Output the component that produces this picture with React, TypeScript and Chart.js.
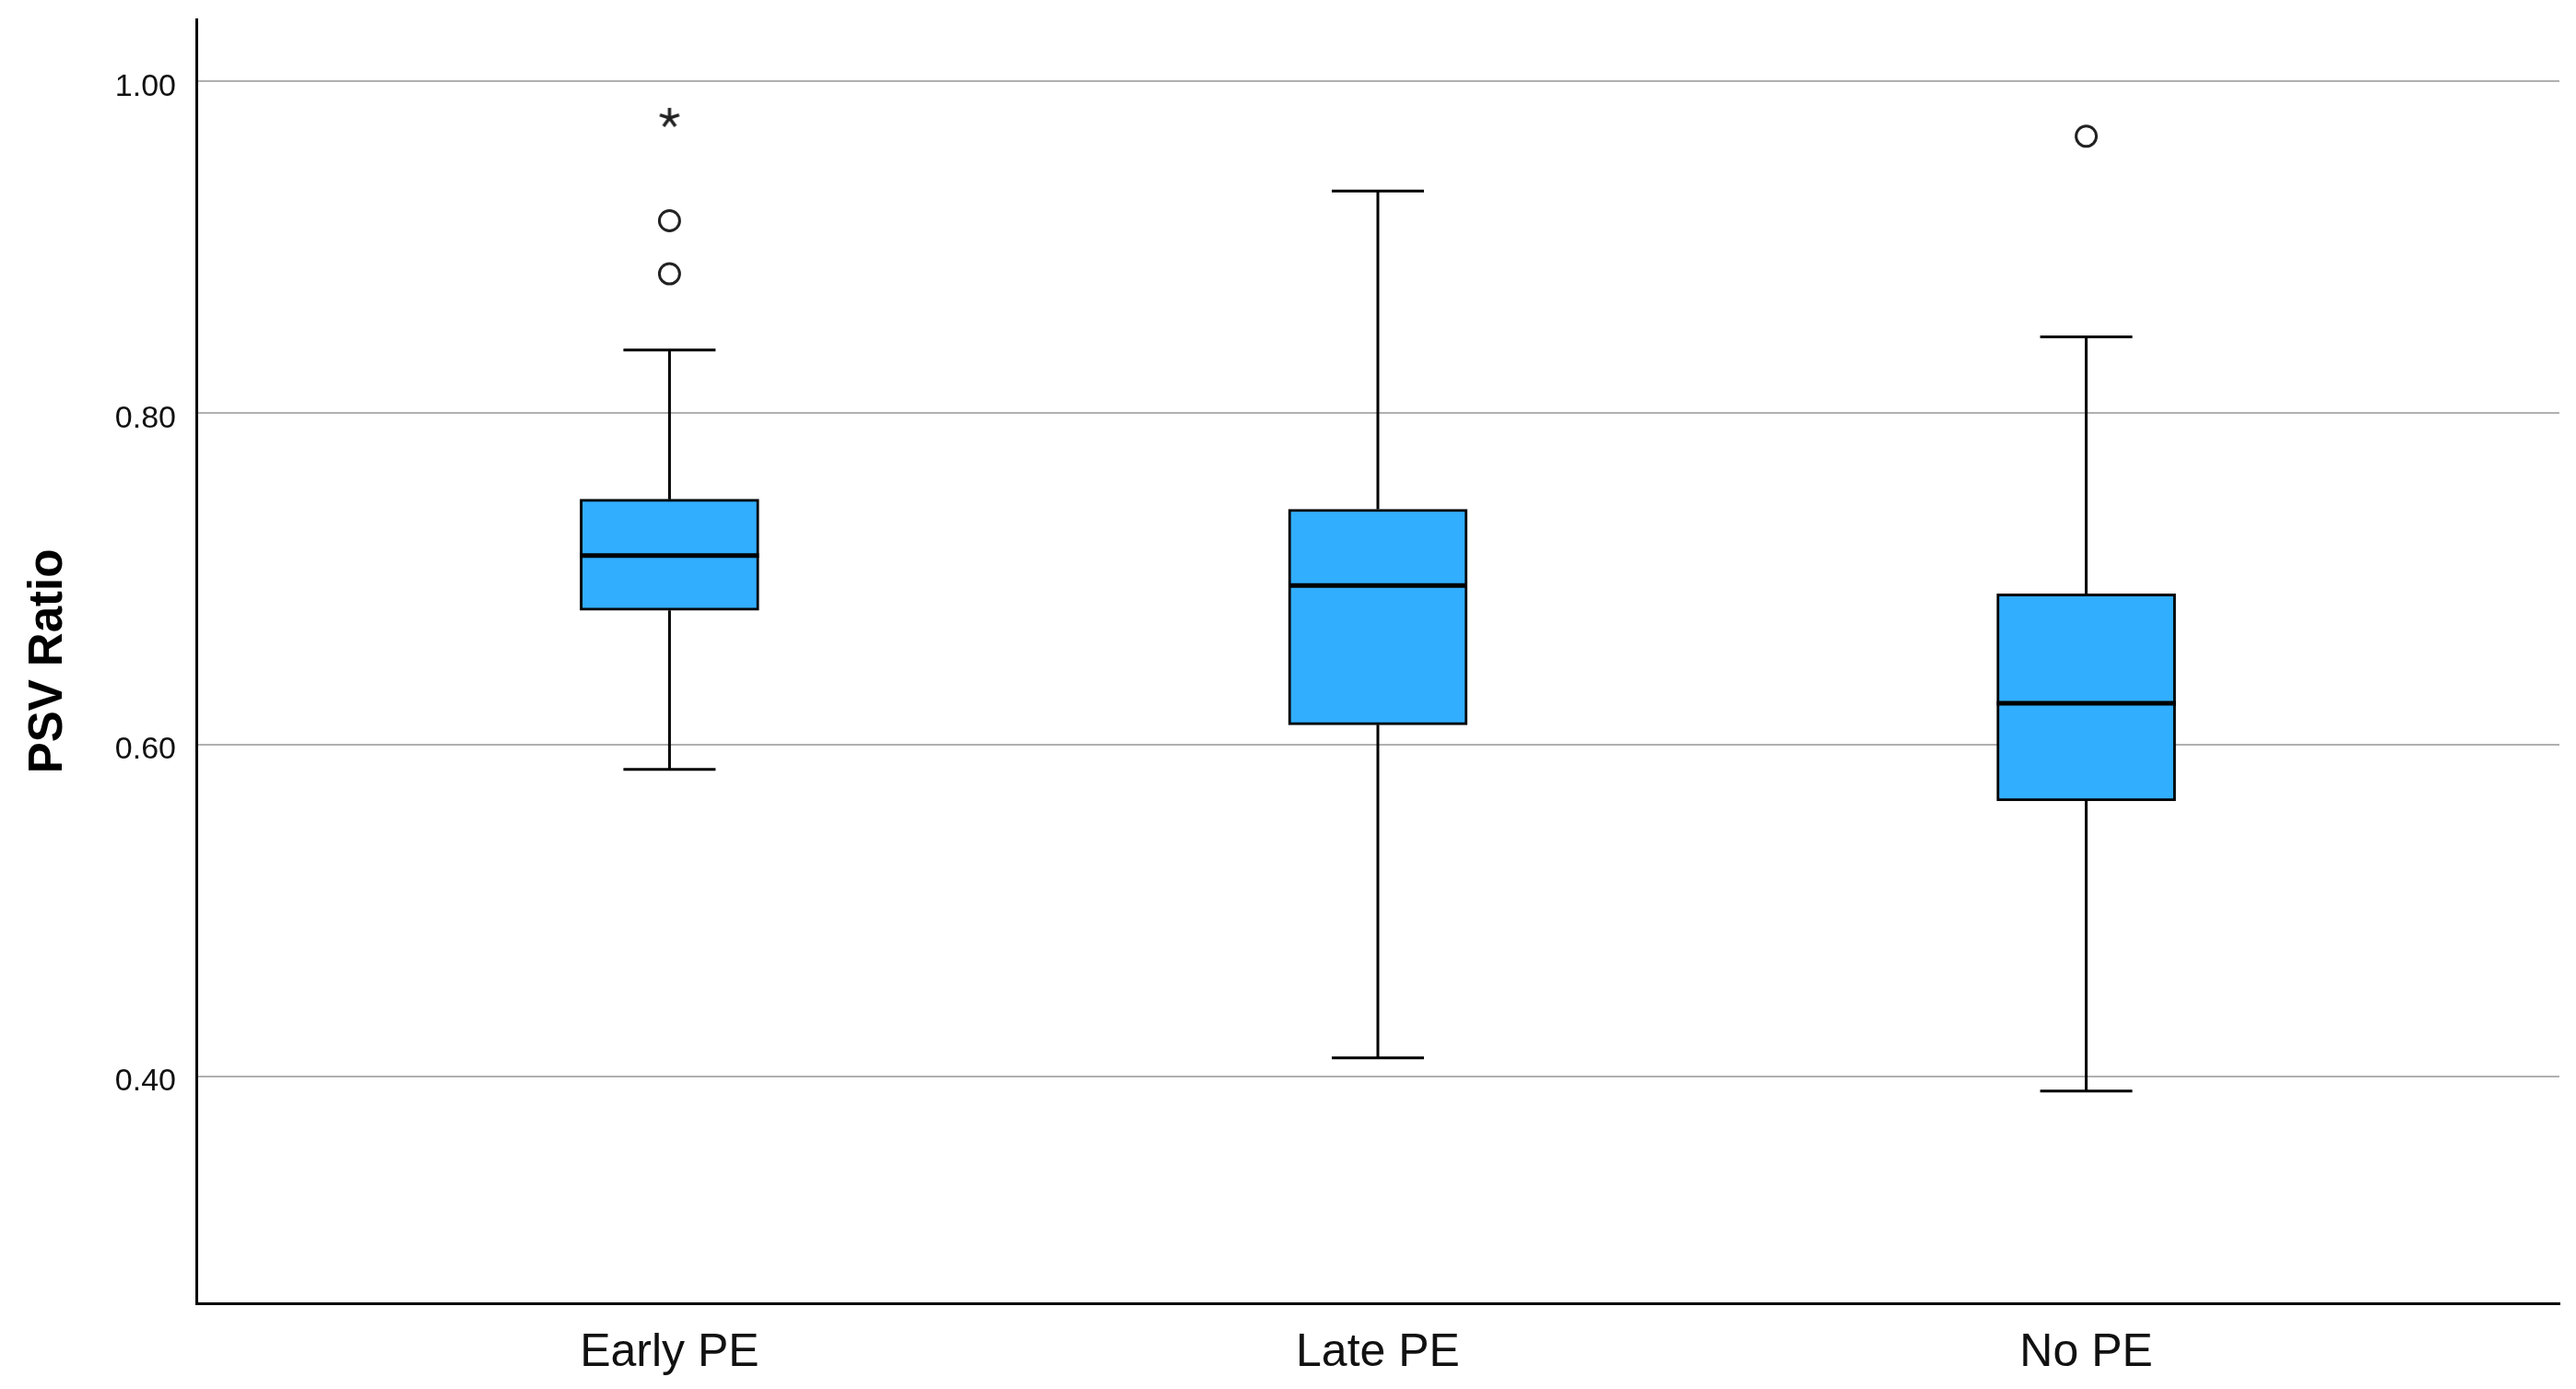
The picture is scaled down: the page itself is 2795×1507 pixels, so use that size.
import React, { useEffect, useRef } from 'react';
import { Chart, registerables } from 'chart.js';

Chart.register(...registerables);

// ---- data ----
const categories = ['Early PE', 'Late PE', 'No PE'];
const whiskerLow = [0.585, 0.411, 0.391];
const q1 = [0.681, 0.612, 0.566];
const median = [0.714, 0.696, 0.625];
const q3 = [0.748, 0.742, 0.691];
const whiskerHigh = [0.838, 0.934, 0.846];
const outlierCat = [0, 0, 2];
const outlierVal = [0.916, 0.884, 0.967];
const extremeCat = [0];
const extremeVal = [0.978];
const yTicks = [0.4, 0.6, 0.8, 1.0];

const FONT = '"Liberation Sans", Arial, sans-serif';

function makeAsterisk(): HTMLCanvasElement {
  const c = document.createElement('canvas');
  c.width = 28;
  c.height = 28;
  const g = c.getContext('2d')!;
  g.strokeStyle = '#222';
  g.lineWidth = 3.5;
  g.lineCap = 'butt';
  const cx = 14, cy = 14, r = 11;
  for (let k = 0; k < 5; k++) {
    const a = -Math.PI / 2 + (k * 2 * Math.PI) / 5;
    g.beginPath();
    g.moveTo(cx, cy);
    g.lineTo(cx + r * Math.cos(a), cy + r * Math.sin(a));
    g.stroke();
  }
  return c;
}

const whiskerPlugin = {
  id: 'whiskers',
  afterDatasetsDraw(chart: any) {
    const ctx = chart.ctx;
    const xs = chart.scales.x;
    const ys = chart.scales.y;
    const meta = chart.getDatasetMeta(0);
    ctx.save();
    ctx.strokeStyle = '#000';
    categories.forEach((_, i) => {
      const x = xs.getPixelForValue(i);
      const capHalf = 50;
      ctx.lineWidth = 3;
      ctx.beginPath();
      ctx.moveTo(x, ys.getPixelForValue(whiskerHigh[i]));
      ctx.lineTo(x, ys.getPixelForValue(q3[i]));
      ctx.moveTo(x, ys.getPixelForValue(q1[i]));
      ctx.lineTo(x, ys.getPixelForValue(whiskerLow[i]));
      ctx.stroke();
      ctx.beginPath();
      ctx.moveTo(x - capHalf, ys.getPixelForValue(whiskerHigh[i]));
      ctx.lineTo(x + capHalf, ys.getPixelForValue(whiskerHigh[i]));
      ctx.moveTo(x - capHalf, ys.getPixelForValue(whiskerLow[i]));
      ctx.lineTo(x + capHalf, ys.getPixelForValue(whiskerLow[i]));
      ctx.stroke();
      const bar = meta.data[i];
      const half = bar ? bar.width / 2 : 97;
      ctx.lineWidth = 5;
      ctx.beginPath();
      ctx.moveTo(x - half, ys.getPixelForValue(median[i]));
      ctx.lineTo(x + half, ys.getPixelForValue(median[i]));
      ctx.stroke();
    });
    ctx.restore();
  },
};

export default function App() {
  const ref = useRef<HTMLCanvasElement>(null);

  useEffect(() => {
    if (!ref.current) return;
    const star = makeAsterisk();
    const chart = new Chart(ref.current, {
      type: 'bar',
      data: {
        datasets: [
          {
            type: 'bar',
            data: categories.map((_, i) => ({ x: i, y: [q1[i], q3[i]] })) as any,
            backgroundColor: '#31aefd',
            borderColor: '#000',
            borderWidth: 3,
            borderSkipped: false,
            barThickness: 194,
            order: 2,
          } as any,
          {
            type: 'scatter',
            data: outlierCat.map((c, k) => ({ x: c, y: outlierVal[k] })),
            pointStyle: 'circle',
            pointRadius: 11,
            pointBorderWidth: 3,
            pointBorderColor: '#222',
            pointBackgroundColor: 'rgba(255,255,255,0)',
            order: 1,
          } as any,
          {
            type: 'scatter',
            data: extremeCat.map((c, k) => ({ x: c, y: extremeVal[k] })),
            pointStyle: star,
            pointRadius: 11,
            order: 1,
          } as any,
        ],
      },
      options: {
        responsive: true,
        maintainAspectRatio: false,
        animation: false,
        layout: { padding: { top: 21, right: 18, left: 0, bottom: 0 } },
        plugins: { legend: { display: false }, tooltip: { enabled: false } },
        scales: {
          x: {
            type: 'linear',
            offset: false,
            bounds: 'data',
            min: -0.668,
            max: 2.668,
            grid: { display: false, drawTicks: false, offset: false },
            border: { display: true, color: '#000', width: 3 },
            afterBuildTicks: (s: any) => {
              s.ticks = categories.map((_, i) => ({ value: i }));
            },
            afterFit: (s: any) => {
              s.height = 93;
              s.paddingLeft = 0;
              s.paddingRight = 0;
            },
            ticks: {
              callback: (v: any) => categories[Number(v)] ?? '',
              font: { family: FONT, size: 50 },
              color: '#111',
              padding: 24,
              autoSkip: false,
              maxRotation: 0,
            },
          },
          y: {
            type: 'linear',
            min: 0.263,
            max: 1.0375,
            grid: { color: '#b0b0b0', lineWidth: 2, drawTicks: false },
            border: { display: true, color: '#000', width: 3 },
            afterBuildTicks: (s: any) => {
              s.ticks = yTicks.map((v) => ({ value: v }));
            },
            afterFit: (s: any) => {
              s.width = 213;
              s.paddingTop = 0;
              s.paddingBottom = 0;
            },
            ticks: {
              callback: (v: any) => Number(v).toFixed(2),
              font: { family: FONT, size: 34 },
              color: '#111',
              padding: 22,
              labelOffset: 6,
            },
            title: {
              display: true,
              text: 'PSV Ratio',
              font: { family: FONT, size: 51, weight: 'bold' },
              color: '#000',
              padding: { top: 22, bottom: 0 },
            },
          },
        },
      } as any,
      plugins: [whiskerPlugin],
    });
    return () => chart.destroy();
  }, []);

  return (
    <div
      style={{
        position: 'fixed',
        left: 0,
        top: 0,
        width: 2795,
        height: 1507,
        background: '#fff',
      }}
    >
      <canvas ref={ref} />
    </div>
  );
}
